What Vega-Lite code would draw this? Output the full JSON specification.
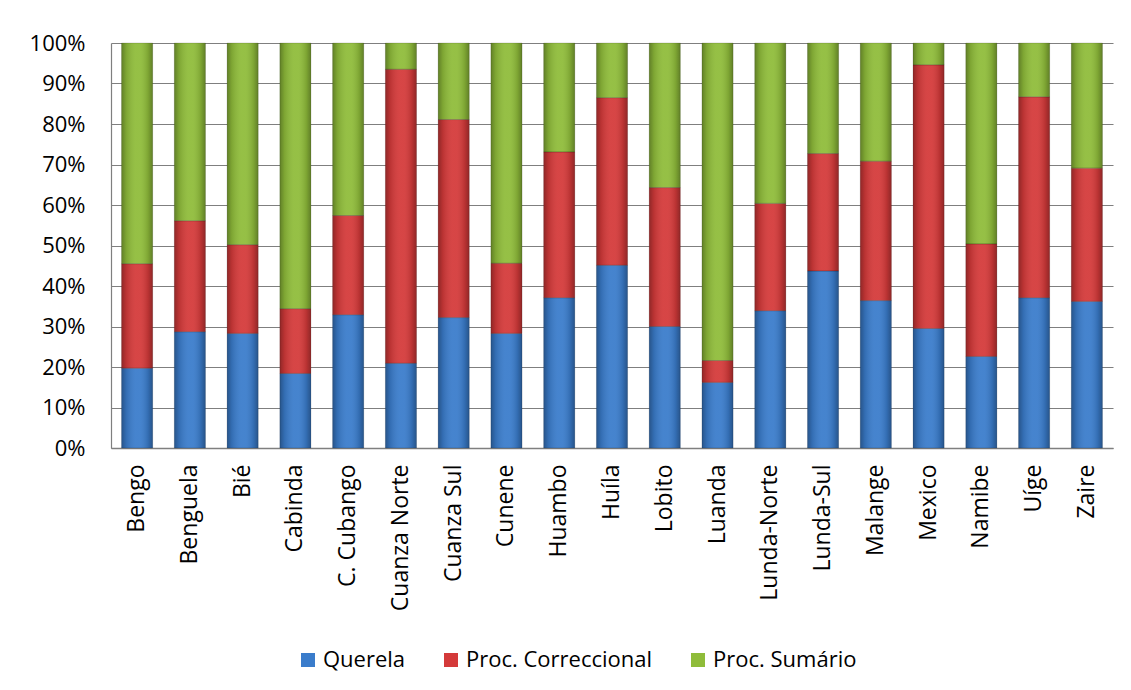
{
  "$schema": "https://vega.github.io/schema/vega-lite/v6.json",
  "width": 1002,
  "height": 405,
  "autosize": {"type": "none"},
  "padding": {"left": 111, "top": 43, "right": 18, "bottom": 242},
  "background": "white",
  "config": {
    "font": "Open Sans",
    "view": {"stroke": null},
    "axis": {"labelFont": "Open Sans", "labelColor": "#000000", "ticks": false, "domainColor": "#7f7f7f", "gridColor": "#7f7f7f", "gridWidth": 1.2},
    "legend": {"labelFont": "Open Sans", "labelColor": "#000000"}
  },
  "data": {
    "values": [
      {"provincia": "Bengo", "tipo": "Querela", "k": 1, "pct": 19.7},
      {"provincia": "Bengo", "tipo": "Proc. Correccional", "k": 2, "pct": 25.8},
      {"provincia": "Bengo", "tipo": "Proc. Sumário", "k": 3, "pct": 54.5},
      {"provincia": "Benguela", "tipo": "Querela", "k": 1, "pct": 28.7},
      {"provincia": "Benguela", "tipo": "Proc. Correccional", "k": 2, "pct": 27.4},
      {"provincia": "Benguela", "tipo": "Proc. Sumário", "k": 3, "pct": 43.9},
      {"provincia": "Bié", "tipo": "Querela", "k": 1, "pct": 28.3},
      {"provincia": "Bié", "tipo": "Proc. Correccional", "k": 2, "pct": 21.9},
      {"provincia": "Bié", "tipo": "Proc. Sumário", "k": 3, "pct": 49.8},
      {"provincia": "Cabinda", "tipo": "Querela", "k": 1, "pct": 18.4},
      {"provincia": "Cabinda", "tipo": "Proc. Correccional", "k": 2, "pct": 16.0},
      {"provincia": "Cabinda", "tipo": "Proc. Sumário", "k": 3, "pct": 65.6},
      {"provincia": "C. Cubango", "tipo": "Querela", "k": 1, "pct": 32.9},
      {"provincia": "C. Cubango", "tipo": "Proc. Correccional", "k": 2, "pct": 24.5},
      {"provincia": "C. Cubango", "tipo": "Proc. Sumário", "k": 3, "pct": 42.6},
      {"provincia": "Cuanza Norte", "tipo": "Querela", "k": 1, "pct": 20.9},
      {"provincia": "Cuanza Norte", "tipo": "Proc. Correccional", "k": 2, "pct": 72.6},
      {"provincia": "Cuanza Norte", "tipo": "Proc. Sumário", "k": 3, "pct": 6.5},
      {"provincia": "Cuanza Sul", "tipo": "Querela", "k": 1, "pct": 32.2},
      {"provincia": "Cuanza Sul", "tipo": "Proc. Correccional", "k": 2, "pct": 48.9},
      {"provincia": "Cuanza Sul", "tipo": "Proc. Sumário", "k": 3, "pct": 18.9},
      {"provincia": "Cunene", "tipo": "Querela", "k": 1, "pct": 28.3},
      {"provincia": "Cunene", "tipo": "Proc. Correccional", "k": 2, "pct": 17.3},
      {"provincia": "Cunene", "tipo": "Proc. Sumário", "k": 3, "pct": 54.4},
      {"provincia": "Huambo", "tipo": "Querela", "k": 1, "pct": 37.1},
      {"provincia": "Huambo", "tipo": "Proc. Correccional", "k": 2, "pct": 36.0},
      {"provincia": "Huambo", "tipo": "Proc. Sumário", "k": 3, "pct": 26.9},
      {"provincia": "Huíla", "tipo": "Querela", "k": 1, "pct": 45.1},
      {"provincia": "Huíla", "tipo": "Proc. Correccional", "k": 2, "pct": 41.4},
      {"provincia": "Huíla", "tipo": "Proc. Sumário", "k": 3, "pct": 13.5},
      {"provincia": "Lobito", "tipo": "Querela", "k": 1, "pct": 30.0},
      {"provincia": "Lobito", "tipo": "Proc. Correccional", "k": 2, "pct": 34.3},
      {"provincia": "Lobito", "tipo": "Proc. Sumário", "k": 3, "pct": 35.7},
      {"provincia": "Luanda", "tipo": "Querela", "k": 1, "pct": 16.2},
      {"provincia": "Luanda", "tipo": "Proc. Correccional", "k": 2, "pct": 5.4},
      {"provincia": "Luanda", "tipo": "Proc. Sumário", "k": 3, "pct": 78.4},
      {"provincia": "Lunda-Norte", "tipo": "Querela", "k": 1, "pct": 33.9},
      {"provincia": "Lunda-Norte", "tipo": "Proc. Correccional", "k": 2, "pct": 26.5},
      {"provincia": "Lunda-Norte", "tipo": "Proc. Sumário", "k": 3, "pct": 39.6},
      {"provincia": "Lunda-Sul", "tipo": "Querela", "k": 1, "pct": 43.7},
      {"provincia": "Lunda-Sul", "tipo": "Proc. Correccional", "k": 2, "pct": 29.0},
      {"provincia": "Lunda-Sul", "tipo": "Proc. Sumário", "k": 3, "pct": 27.3},
      {"provincia": "Malange", "tipo": "Querela", "k": 1, "pct": 36.4},
      {"provincia": "Malange", "tipo": "Proc. Correccional", "k": 2, "pct": 34.4},
      {"provincia": "Malange", "tipo": "Proc. Sumário", "k": 3, "pct": 29.2},
      {"provincia": "Mexico", "tipo": "Querela", "k": 1, "pct": 29.5},
      {"provincia": "Mexico", "tipo": "Proc. Correccional", "k": 2, "pct": 65.1},
      {"provincia": "Mexico", "tipo": "Proc. Sumário", "k": 3, "pct": 5.4},
      {"provincia": "Namibe", "tipo": "Querela", "k": 1, "pct": 22.6},
      {"provincia": "Namibe", "tipo": "Proc. Correccional", "k": 2, "pct": 27.8},
      {"provincia": "Namibe", "tipo": "Proc. Sumário", "k": 3, "pct": 49.6},
      {"provincia": "Uíge", "tipo": "Querela", "k": 1, "pct": 37.1},
      {"provincia": "Uíge", "tipo": "Proc. Correccional", "k": 2, "pct": 49.6},
      {"provincia": "Uíge", "tipo": "Proc. Sumário", "k": 3, "pct": 13.3},
      {"provincia": "Zaire", "tipo": "Querela", "k": 1, "pct": 36.2},
      {"provincia": "Zaire", "tipo": "Proc. Correccional", "k": 2, "pct": 32.9},
      {"provincia": "Zaire", "tipo": "Proc. Sumário", "k": 3, "pct": 30.9}
    ]
  },
  "encoding": {
    "x": {
      "field": "provincia",
      "type": "nominal",
      "sort": null,
      "scale": {"paddingInner": 0.41, "paddingOuter": 0.2},
      "axis": {"title": null, "labelAngle": -90, "labelFontSize": 23, "labelPadding": 16, "domainWidth": 1.6, "grid": false}
    },
    "y": {
      "field": "pct",
      "type": "quantitative",
      "stack": "normalize",
      "scale": {"domain": [0, 1]},
      "axis": {"title": null, "values": [0, 0.1, 0.2, 0.3, 0.4, 0.5, 0.6, 0.7, 0.8, 0.9, 1], "format": ".0%", "labelFontSize": 22, "labelPadding": 26, "grid": true, "domainWidth": 1.2}
    },
    "order": {"field": "k", "type": "quantitative"}
  },
  "layer": [
    {
      "mark": {"type": "bar"},
      "encoding": {
        "color": {
          "field": "tipo",
          "type": "nominal",
          "sort": ["Querela", "Proc. Correccional", "Proc. Sumário"],
          "scale": {"domain": ["Querela", "Proc. Correccional", "Proc. Sumário"], "range": ["#3a7ccb", "#d43a3a", "#8fbc3a"]},
          "legend": {
            "title": null,
            "orient": "none",
            "direction": "horizontal",
            "legendX": 186,
            "legendY": 606,
            "symbolType": "square",
            "symbolSize": 196,
            "symbolStrokeWidth": 0,
            "labelFontSize": 22,
            "labelOffset": 4,
            "labelLimit": 400,
            "columnPadding": 34
          }
        }
      }
    },
    {
      "mark": {
        "type": "bar",
        "stroke": "#000000",
        "strokeOpacity": 0.15,
        "strokeWidth": 1,
        "fill": {
          "gradient": "linear",
          "x1": 0, "y1": 0, "x2": 1, "y2": 0,
          "stops": [
            {"offset": 0, "color": "rgba(0,0,0,0.32)"},
            {"offset": 0.15, "color": "rgba(0,0,0,0.12)"},
            {"offset": 0.45, "color": "rgba(255,255,255,0.06)"},
            {"offset": 0.6, "color": "rgba(255,255,255,0.06)"},
            {"offset": 0.85, "color": "rgba(0,0,0,0.12)"},
            {"offset": 1, "color": "rgba(0,0,0,0.32)"}
          ]
        }
      },
      "encoding": {
        "detail": {"field": "tipo", "type": "nominal"}
      }
    }
  ]
}
